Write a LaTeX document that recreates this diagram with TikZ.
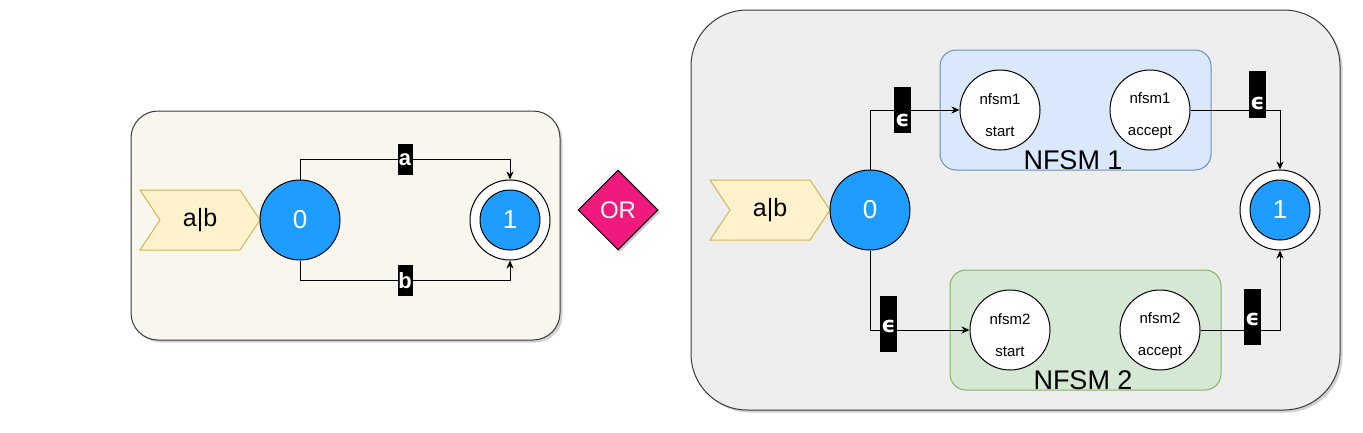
\documentclass[tikz,border=0pt]{standalone}
\usepackage{fontspec}
\setmainfont{Liberation Sans}
\newfontfamily\epsfont{DejaVu Sans}
\usetikzlibrary{shapes.geometric,shapes.symbols,shadows,arrows.meta,calc}
\definecolor{panelA}{HTML}{F9F7ED}
\definecolor{panelB}{HTML}{EEEEEE}
\definecolor{paneledge}{HTML}{36393D}
\definecolor{stateblue}{HTML}{1E9CFF}
\definecolor{chevfill}{HTML}{FFF2CC}
\definecolor{chevedge}{HTML}{D6B656}
\definecolor{orpink}{HTML}{F01A7E}
\definecolor{nfsmAfill}{HTML}{DAE8FC}
\definecolor{nfsmAedge}{HTML}{6C8EBF}
\definecolor{nfsmBfill}{HTML}{D5E8D4}
\definecolor{nfsmBedge}{HTML}{82B366}
\begin{document}
\begin{tikzpicture}[x=1pt,y=-1pt,line width=1pt,
  panel/.style={draw=paneledge, inner sep=0pt, rounded corners=#1,
    drop shadow={shadow xshift=2.5pt, shadow yshift=-2.5pt, opacity=0.25, fill=black!70}},
  panel/.default=27pt,
  chev/.style={signal, signal to=east, signal from=west, signal pointer angle=112.6,
    draw=chevedge, fill=chevfill, minimum width=120pt, minimum height=60pt, inner sep=0pt,
    font=\fontsize{25}{28}\selectfont},
  state/.style={circle, draw=black, fill=stateblue, minimum size=80pt, inner sep=0pt,
    text=white, font=\fontsize{26}{28}\selectfont},
  finalout/.style={circle, draw=black, fill=white, minimum size=80pt, inner sep=0pt},
  finalin/.style={state, minimum size=60pt},
  sub/.style={circle, draw=black, fill=white, minimum size=80pt, inner sep=0pt},
  subtxt/.style={align=center, inner sep=0pt, font=\fontsize{15}{32}\selectfont},
  edge/.style={draw=black, line width=1pt, -{Stealth[length=8pt,width=7pt,inset=2.5pt]}},
  lab/.style={fill=black, text=white, inner sep=0pt, minimum width=15pt, minimum height=31pt,
    font=\bfseries\fontsize{22}{24}\selectfont},
  epsbox/.style={fill=black, inner sep=0pt, minimum width=17pt},
  epstxt/.style={text=white, inner sep=0pt, font=\epsfont\bfseries\fontsize{22}{24}\selectfont},
  nfsmbox/.style={inner sep=0pt, rounded corners=16pt, line width=1pt},
  title/.style={inner sep=0pt, anchor=base, font=\fontsize{27}{30}\selectfont}
]
\useasboundingbox (0,0) rectangle (1363,432);

% ---------- left panel ----------
\node[panel, fill=panelA, minimum width=429pt, minimum height=229pt] (lp) at (345.5,225.5) {};
\node[chev] (in1) at (200,220) {a|b};
\node[state] (q0) at (300,220) {0};
\node[finalout] (q1o) at (510,220) {};
\node[finalin] (q1) at (510,220) {1};
\draw[edge] (q0.north) -- ++(0,-20) -| node[lab, pos=0.25] (la) {a} (q1o.north);
\draw[edge] (q0.south) -- ++(0,20) -| node[lab, pos=0.25] (lb) {b} (q1o.south);

% ---------- OR ----------
\node[diamond, draw=black, fill=orpink, minimum width=80pt, minimum height=80pt, inner sep=0pt,
  text=white, font=\fontsize{24}{28}\selectfont,
  drop shadow={shadow xshift=2pt, shadow yshift=-2pt, opacity=0.3, fill=black!70}] (or) at (618,210) {OR};

% ---------- right panel ----------
\node[panel=56pt, fill=panelB, minimum width=649pt, minimum height=400pt] (rp) at (1015.5,210) {};
\node[nfsmbox, draw=nfsmAedge, fill=nfsmAfill, minimum width=271pt, minimum height=120pt] (b1) at (1075.5,110) {};
\node[nfsmbox, draw=nfsmBedge, fill=nfsmBfill, minimum width=271pt, minimum height=120pt] (b2) at (1085.5,330) {};
\begin{scope}
  \clip (940,50) rectangle (1211,169.5);
  \node[title] (t1) at (1073,169.5) {NFSM 1};
\end{scope}
\begin{scope}
  \clip (950,270) rectangle (1221,389.5);
  \node[title] (t2) at (1083,389.5) {NFSM 2};
\end{scope}

\node[chev] (in2) at (770,210) {a|b};
\node[state] (r0) at (870,210) {0};
\node[sub] (s1) at (1000,110) {};
\node[subtxt] (s1t) at (1000,115.5) {nfsm1\\start};
\node[sub] (a1) at (1150,110) {};
\node[subtxt] (a1t) at (1150,115.5) {nfsm1\\accept};
\node[sub] (s2) at (1010,330) {};
\node[subtxt] (s2t) at (1010,335.5) {nfsm2\\start};
\node[sub] (a2) at (1160,330) {};
\node[subtxt] (a2t) at (1160,335.5) {nfsm2\\accept};
\node[finalout] (r1o) at (1280,210) {};
\node[finalin] (r1) at (1280,210) {1};

\draw[edge] (r0.north) |- (s1.west);
\draw[edge] (a1.east) -| (r1o.north);
\draw[edge] (r0.south) |- (s2.west);
\draw[edge] (a2.east) -| (r1o.south);

\node[epsbox, minimum height=46pt] (e1) at (902.5,110) {};
\node[epstxt] (e1t) at (902.5,120) {ϵ};
\node[epsbox, minimum height=47pt] (e2) at (1257.5,94.5) {};
\node[epstxt] (e2t) at (1257.5,103) {ϵ};
\node[epsbox, minimum height=56pt] (e3) at (888.5,324) {};
\node[epstxt] (e3t) at (888.5,326) {ϵ};
\node[epsbox, minimum height=56pt] (e4) at (1252.5,317) {};
\node[epstxt] (e4t) at (1252.5,319) {ϵ};
\end{tikzpicture}
\end{document}
